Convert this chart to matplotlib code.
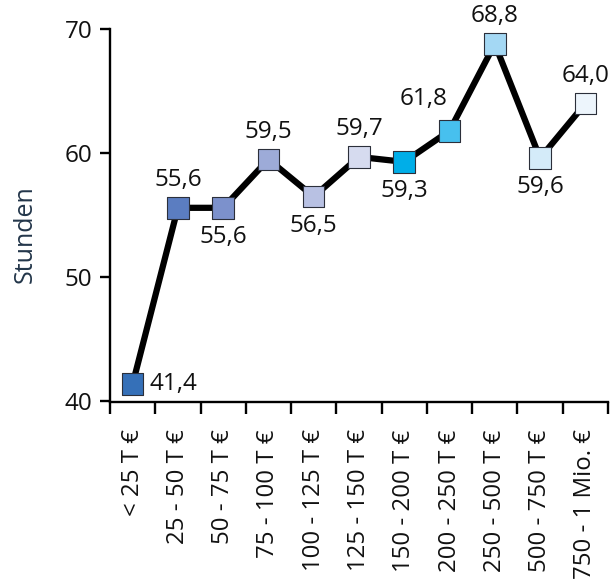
import matplotlib
matplotlib.use("Agg")
import matplotlib.pyplot as plt
from matplotlib.ticker import FixedLocator

plt.rcParams['font.family'] = ['Open Sans', 'DejaVu Sans']

categories = ['< 25 T €', '25 - 50 T €', '50 - 75 T €', '75 - 100 T €', '100 - 125 T €',
              '125 - 150 T €', '150 - 200 T €', '200 - 250 T €', '250 - 500 T €',
              '500 - 750 T €', '750 - 1 Mio. €']
stunden = [41.4, 55.6, 55.6, 59.5, 56.5, 59.7, 59.3, 61.8, 68.8, 59.6, 64.0]
labels = ['41,4', '55,6', '55,6', '59,5', '56,5', '59,7', '59,3', '61,8', '68,8', '59,6', '64,0']
# where the value label sits relative to the marker
label_pos = ['right', 'above', 'below', 'above', 'below', 'above', 'below', 'aboveleft',
             'above', 'below', 'above']
marker_colors = ['#3570b8', '#5b7dc1', '#7c91cc', '#9dabd8', '#b8c1e3', '#d6dbef',
                 '#00aee8', '#47c0ee', '#a4d8f4', '#d4ebf9', '#edf5fc']

fig = plt.figure(figsize=(6.10, 5.84), dpi=100)
ax = fig.add_axes([0.1803, 0.3125, 0.8164, 0.6378])

x = list(range(len(categories)))
ax.plot(x, stunden, color='black', lw=4.5, zorder=2, clip_on=False)
ax.scatter(x, stunden, marker='s', s=15.5 ** 2, c=marker_colors, edgecolors='#2b2f3a',
           linewidths=0.8, zorder=3, clip_on=False)

offsets = {'right': (12, 0, 'left'), 'above': (0, 20, 'center'), 'below': (0, -21, 'center'),
           'aboveleft': (-19, 23, 'center')}
for xi, v, lab, pos in zip(x, stunden, labels, label_pos):
    dx, dy, ha = offsets[pos]
    ax.annotate(lab, (xi, v), xytext=(dx, dy), textcoords='offset points',
                ha=ha, va='center', fontsize=17.5, color='#111111', annotation_clip=False)

ax.set_xlim(-0.5, len(categories) - 0.5)
ax.set_ylim(40, 70)
ax.set_yticks([40, 50, 60, 70])
ax.set_xticks(x)
ax.set_xticklabels(categories, rotation=90, ha='center', va='top')
ax.xaxis.set_minor_locator(FixedLocator([i - 0.5 for i in range(len(categories) + 1)]))

ax.tick_params(axis='x', which='major', length=0, pad=20, labelsize=17.3, labelcolor='#111111')
ax.tick_params(axis='x', which='minor', length=8.6, width=1.7, direction='out', color='black')
ax.tick_params(axis='y', length=7.5, width=1.7, direction='out', pad=5, labelsize=17.5,
               labelcolor='#111111')

for side in ['top', 'right']:
    ax.spines[side].set_visible(False)
for side in ['left', 'bottom']:
    ax.spines[side].set_linewidth(1.7)

ax.set_ylabel('Stunden', fontsize=18, color='#23364a')
ax.yaxis.set_label_coords(-0.145, 0.45)

fig.savefig('out.png', dpi=100)
